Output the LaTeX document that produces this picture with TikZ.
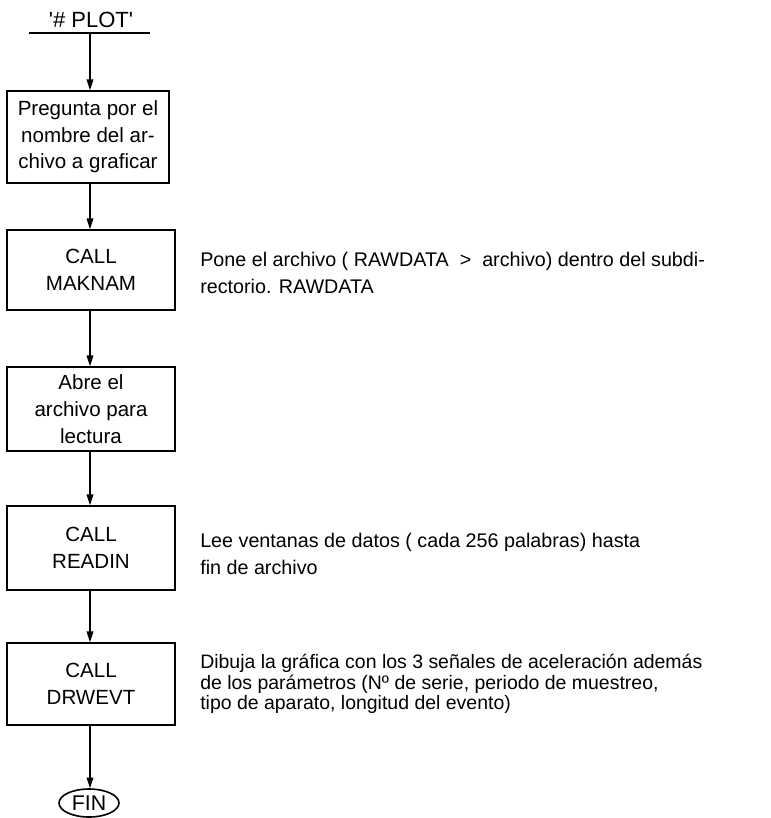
\documentclass[tikz,border=0pt]{standalone}
\usepackage{fontspec}
\setmainfont{Liberation Sans}
\usetikzlibrary{arrows.meta,shapes.geometric}
\begin{document}
\begin{tikzpicture}[x=0.75pt,y=-0.75pt,
  procbox/.style={draw,line width=1.3pt,align=center,inner sep=0pt,font=\fontsize{15.4}{20}\selectfont},
  flow/.style={draw,line width=0.9pt,-{Triangle[length=8pt,width=5pt]}},
  note/.style={anchor=west,align=left,inner sep=0pt,font=\fontsize{14.8}{20.3}\selectfont},
  endnode/.style={draw,ellipse,line width=1.2pt,minimum width=45pt,minimum height=21pt,inner sep=0pt,font=\fontsize{16}{18}\selectfont}]
\useasboundingbox (0,0) rectangle (771,818);
\node[font=\fontsize{16.5}{18}\selectfont,inner sep=0pt] (title) at (91,20) {\textquotesingle\# PLOT\textquotesingle};
\coordinate (ulL) at (29,33);
\coordinate (ulR) at (150,33);
\coordinate (top) at (90,33);
\draw[line width=1.1pt] (ulL) -- (ulR);
\node[procbox,minimum width=121pt,minimum height=69pt] (b1) at (88,137)
  {Pregunta por el\\nombre del ar-\\chivo a graficar};
\node[procbox,minimum width=126pt,minimum height=60pt] (b2) at (91,270)
  {CALL\\MAKNAM};
\node[procbox,minimum width=126pt,minimum height=63pt] (b3) at (91,409)
  {Abre el\\archivo para\\lectura};
\node[procbox,minimum width=126pt,minimum height=63pt] (b4) at (91,548)
  {CALL\\READIN};
\node[procbox,minimum width=126pt,minimum height=61.5pt] (b5) at (91,684)
  {CALL\\DRWEVT};
\node[endnode] (fin) at (89,803) {FIN};
\draw[flow] (top) -- (top |- b1.north);
\draw[flow] (top |- b1.south) -- (top |- b2.north);
\draw[flow] (top |- b2.south) -- (top |- b3.north);
\draw[flow] (top |- b3.south) -- (top |- b4.north);
\draw[flow] (top |- b4.south) -- (top |- b5.north);
\draw[flow] (top |- b5.south) -- (top |- fin.north);
\node[note] (n2) at (200,273) {Pone el archivo ( RAWDATA \ > \ archivo) dentro del subdi-\\rectorio. RAWDATA};
\node[note] (n4) at (200,554) {Lee ventanas de datos ( cada 256 palabras) hasta\\fin de archivo};
\node[note,font=\fontsize{14.6}{15.6}\selectfont] (n5) at (200,684) {Dibuja la gráfica con los 3 señales de aceleración además\\de los parámetros (Nº de serie, periodo de muestreo,\\tipo de aparato, longitud del evento)};
\end{tikzpicture}
\end{document}
